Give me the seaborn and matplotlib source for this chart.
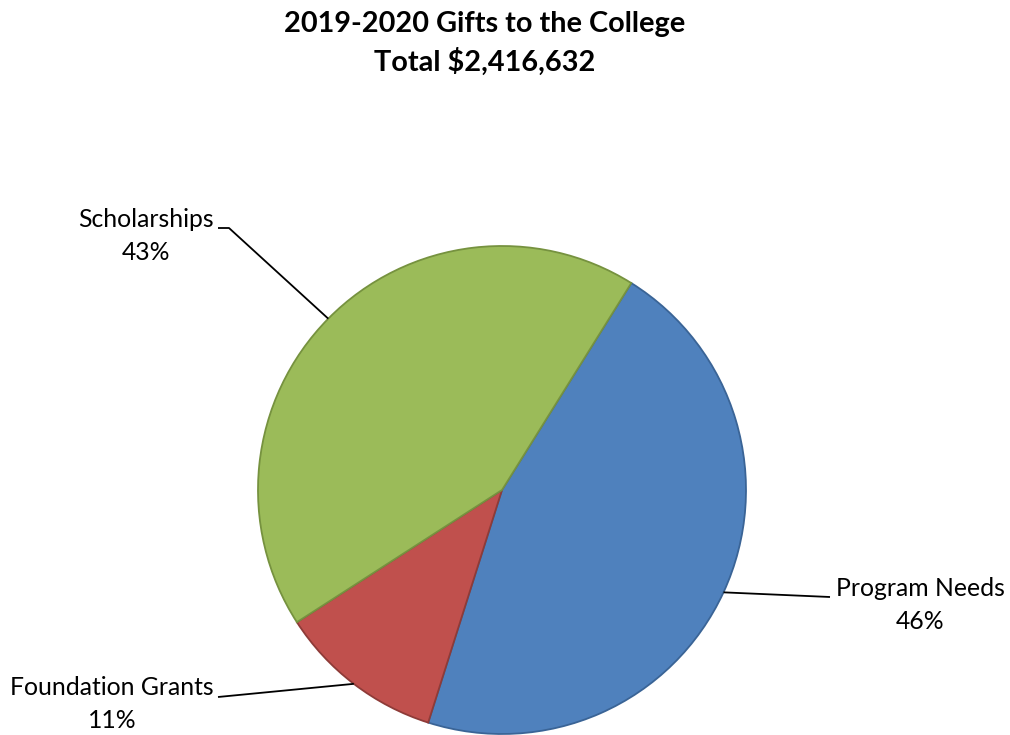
import numpy as np
import matplotlib
matplotlib.use("Agg")
import matplotlib.pyplot as plt
import seaborn as sns

categories = ["Program Needs", "Foundation Grants", "Scholarships"]
percents = [46, 11, 43]
title_lines = ["2019-2020 Gifts to the College", "Total $2,416,632"]

sns.set_theme(style="white")
plt.rcParams['font.family'] = ['Lato', 'DejaVu Sans']

colors = sns.color_palette(["#4F81BD", "#C0504D", "#9BBB59"])
edges = ["#3A6496", "#8E3B38", "#76923F"]

W, H = 1010, 735
fig = plt.figure(figsize=(W / 100, H / 100), dpi=100)
ax = fig.add_axes([0, 0, 1, 1])

cx, cy, r = 502, H - 490, 244
wedges, _ = ax.pie(percents, colors=colors, startangle=58, counterclock=False,
                   center=(cx, cy), radius=r, frame=True,
                   wedgeprops=dict(linewidth=1.3))
for w, ec in zip(wedges, edges):
    w.set_edgecolor(ec)
ax.set_xlim(0, W)
ax.set_ylim(0, H)
ax.set_aspect("equal")
ax.axis("off")

# label placement (pixel coordinates of text anchor) and leader ends
label_pos = {
    "Program Needs": dict(text=(920, 605), end=[(830, 597)]),
    "Foundation Grants": dict(text=(112, 704), end=[(218, 697)]),
    "Scholarships": dict(text=(146, 236), end=[(229, 228), (218, 228)]),
}
fs = 17.8
for w, cat, p in zip(wedges, categories, percents):
    mid = np.deg2rad((w.theta1 + w.theta2) / 2)
    ex, ey = cx + r * np.cos(mid), cy + r * np.sin(mid)
    info = label_pos[cat]
    pts = [(ex, ey)] + [(x, H - y) for x, y in info["end"]]
    xs, ys = zip(*pts)
    ax.plot(xs, ys, color="black", lw=1.3, solid_capstyle="butt")
    tx, ty = info["text"]
    ax.text(tx, H - ty, f"{cat}\n{p}%", ha="center", va="center",
            fontsize=fs, color="black", linespacing=1.5)

fig.text(485 / W, 1 - 24 / H, title_lines[0], ha="center", va="center",
         fontsize=20.8, fontweight="bold", color="black")
fig.text(485 / W, 1 - 62 / H, title_lines[1], ha="center", va="center",
         fontsize=20.8, fontweight="bold", color="black")

fig.savefig("out.png", dpi=100, facecolor="white")
